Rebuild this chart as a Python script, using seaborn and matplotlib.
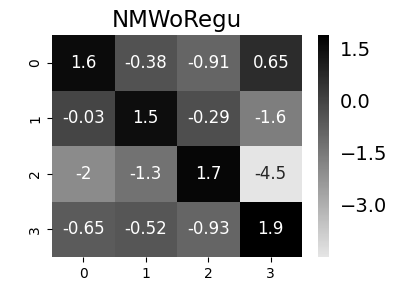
import numpy as np
import pandas as pd
import matplotlib
matplotlib.use("Agg")
import matplotlib.pyplot as plt
import seaborn as sns

rows = ["0", "1", "2", "3"]
cols = ["0", "1", "2", "3"]
row0 = [1.6, -0.38, -0.91, 0.65]
row1 = [-0.03, 1.5, -0.29, -1.6]
row2 = [-2.0, -1.3, 1.7, -4.5]
row3 = [-0.65, -0.52, -0.93, 1.9]

df = pd.DataFrame([row0, row1, row2, row3], index=rows, columns=cols)

cmap = sns.blend_palette(["#e5e5e5", "black"], as_cmap=True)

fig = plt.figure(figsize=(4.05, 2.89), dpi=100)
ax = fig.add_axes([52 / 405, 1 - 257 / 289, 250 / 405, 222 / 289])
cax = fig.add_axes([318 / 405, 1 - 257 / 289, 11 / 405, 222 / 289])

sns.heatmap(df, ax=ax, cbar_ax=cax, cmap=cmap, annot=True,
            annot_kws={"size": 12})
ax.set_title("NMWoRegu", fontsize=16.5)
ax.tick_params(labelsize=10)
plt.setp(ax.get_yticklabels(), rotation=90, va="center")
cax.set_yticks([1.5, 0.0, -1.5, -3.0])
cax.tick_params(labelsize=14, length=0, pad=8)

fig.savefig("out.png", dpi=100)
